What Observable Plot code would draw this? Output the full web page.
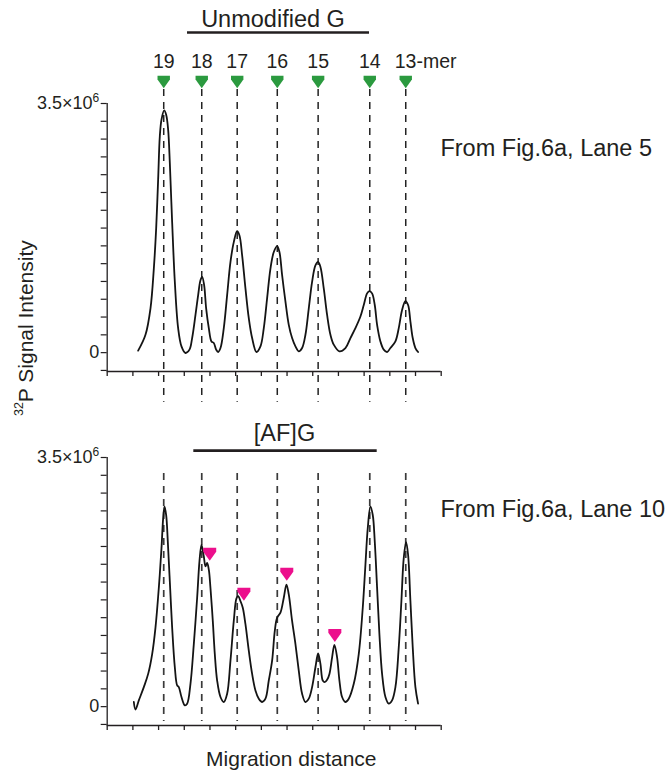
<!DOCTYPE html>
<html>
<head>
<meta charset="utf-8">
<script src="https://cdn.jsdelivr.net/npm/d3@7"></script>
<script src="https://cdn.jsdelivr.net/npm/@observablehq/plot@0.6"></script>
<style>
  html, body { margin: 0; padding: 0; background: #fff; }
  #chart { width: 671px; height: 773px; }
</style>
</head>
<body>
<div id="chart"></div>
<script>
// ---------------- data ----------------
const panels = ["top", "bottom"];
const panelTitles = ["Unmodified G", "[AF]G"];
const laneNotes = ["From Fig.6a, Lane 5", "From Fig.6a, Lane 10"];
const peakLabels = ["19", "18", "17", "16", "15", "14", "13-mer"];
const peakPos = [2.20, 3.68, 5.06, 6.62, 8.21, 10.22, 11.62];
const adductPos = [3.99, 5.32, 6.99, 8.86];
const adductLevel = [2.14, 1.58, 1.86, 1.00];
const xTicks = [0, 1, 2, 3, 4, 5, 6, 7, 8, 9, 10, 11, 12, 13];
const yTicks = [-0.25, 0, 0.25, 0.5, 0.75, 1, 1.25, 1.5, 1.75, 2, 2.25, 2.5, 2.75, 3, 3.25, 3.5];
const yTickLabels = ["0", "3.5×10^6"];
const yAxisTitle = "32P Signal Intensity";
const xAxisTitle = "Migration distance";

// signal in units of 10^6, migration distance in tick units
const topDist = [1.205,1.490,1.685,1.815,1.905,1.983,2.048,2.113,2.217,2.295,2.372,2.437,2.528,2.632,2.761,2.891,3.047,3.202,3.306,3.436,3.540,3.630,3.695,3.773,3.851,3.955,4.058,4.149,4.240,4.318,4.409,4.538,4.668,4.798,4.927,5.057,5.148,5.252,5.381,5.511,5.641,5.809,5.965,6.095,6.224,6.354,6.484,6.614,6.704,6.808,6.938,7.067,7.197,7.327,7.456,7.586,7.716,7.846,7.975,8.105,8.209,8.300,8.429,8.559,8.689,8.818,9.039,9.272,9.467,9.661,9.856,9.986,10.115,10.206,10.310,10.414,10.505,10.634,10.764,10.894,11.023,11.218,11.348,11.477,11.607,11.711,11.802,11.892,11.996,12.100];
const topSignal = [0.028,0.251,0.623,1.181,1.739,2.436,3.040,3.273,3.403,3.343,3.133,2.669,1.832,0.995,0.344,0.088,-0.005,0.042,0.205,0.530,0.809,1.018,1.065,0.948,0.623,0.344,0.158,0.135,0.042,0.009,0.065,0.344,0.809,1.274,1.553,1.706,1.646,1.367,0.902,0.484,0.205,0.009,0.088,0.344,0.762,1.181,1.413,1.497,1.413,1.088,0.716,0.391,0.205,0.088,0.019,0.065,0.251,0.623,0.995,1.227,1.274,1.204,0.902,0.530,0.251,0.112,0.019,0.065,0.205,0.344,0.507,0.669,0.832,0.865,0.832,0.669,0.391,0.158,0.042,0.009,0.065,0.158,0.344,0.600,0.725,0.669,0.437,0.205,0.065,0.009];

const bottomDist = [1.036,1.101,1.231,1.425,1.594,1.750,1.879,2.009,2.113,2.178,2.230,2.295,2.359,2.437,2.528,2.632,2.723,2.787,2.891,3.021,3.112,3.241,3.371,3.501,3.591,3.669,3.760,3.825,3.890,3.955,4.019,4.110,4.188,4.279,4.409,4.538,4.668,4.798,4.927,5.031,5.096,5.187,5.277,5.381,5.511,5.641,5.770,5.900,6.030,6.160,6.289,6.419,6.523,6.614,6.743,6.873,6.977,7.067,7.197,7.327,7.456,7.586,7.716,7.846,7.975,8.105,8.209,8.300,8.390,8.468,8.559,8.650,8.754,8.844,8.948,9.039,9.143,9.272,9.402,9.597,9.791,9.947,10.051,10.141,10.245,10.336,10.414,10.505,10.595,10.699,10.829,10.958,11.088,11.218,11.348,11.451,11.542,11.633,11.711,11.802,11.892,11.996,12.100];
const bottomSignal = [0.065,-0.042,0.088,0.274,0.460,0.739,1.111,1.669,2.227,2.645,2.808,2.692,2.320,1.762,1.111,0.553,0.298,0.274,0.135,0.019,0.042,0.321,0.879,1.530,2.041,2.273,2.111,1.971,2.018,1.925,1.669,1.204,0.739,0.367,0.135,0.065,0.181,0.646,1.204,1.520,1.553,1.483,1.390,1.158,0.786,0.460,0.228,0.112,0.065,0.112,0.367,0.646,1.065,1.251,1.320,1.530,1.715,1.576,1.204,0.879,0.507,0.181,0.065,0.112,0.274,0.553,0.749,0.600,0.367,0.344,0.377,0.460,0.693,0.869,0.693,0.367,0.135,0.065,0.112,0.321,0.739,1.390,1.994,2.506,2.808,2.692,2.320,1.669,1.018,0.460,0.135,0.042,0.088,0.274,0.832,1.483,2.087,2.311,2.134,1.483,0.832,0.274,0.042];

// ---------------- build ----------------
const traces = [
  ...topDist.map((d, i) => ({panel: "top", dist: d, signal: topSignal[i]})),
  ...bottomDist.map((d, i) => ({panel: "bottom", dist: d, signal: bottomSignal[i]}))
];

const INK = "#231f20";
const GREEN = "#2b9a3f";
const PINK = "#ec0f8c";
const FONT = "'Liberation Sans', Arial, Helvetica, sans-serif";

// downward "shield" marker (flat top, short sides, pointed bottom)
const shield = {
  draw(context, size) {
    const r = Math.sqrt(size / Math.PI);
    context.moveTo(-r, -r);
    context.lineTo(r, -r);
    context.lineTo(r, -0.4 * r);
    context.lineTo(0, r);
    context.lineTo(-r, -0.4 * r);
    context.closePath();
  }
};

const onTop = () => "top";
const onBottom = () => "bottom";

const chart = Plot.plot({
  width: 671,
  height: 773,
  marginTop: 102,
  marginBottom: 47,
  marginLeft: 106.7,
  marginRight: 230.3,
  style: {fontFamily: FONT, color: INK, background: "#fff", overflow: "visible"},
  x: {domain: [0, 13]},
  y: {domain: [-0.265, 3.5]},
  fy: {domain: panels, axis: null, paddingInner: 0.242, paddingOuter: 0},
  marks: [
    // axes
    Plot.ruleY([-0.265], {stroke: INK, strokeWidth: 1.3}),
    Plot.ruleX([0], {stroke: INK, strokeWidth: 1.3}),
    Plot.axisX({ticks: xTicks, tickSize: 5, tickFormat: () => "", label: null,
      facetAnchor: null, stroke: INK, strokeWidth: 1.3}),
    Plot.axisY({ticks: yTicks, tickSize: 6, tickPadding: 2, label: null,
      tickFormat: d => d === 0 ? yTickLabels[0] : (Math.abs(d - 3.5) < 1e-9 ? yTickLabels[1] : ""),
      fontSize: 18, fill: INK, stroke: INK, strokeWidth: 1.2}),

    // dashed guide lines
    Plot.ruleX(peakPos, {x: d => d, y1: 3.696, y2: -0.698, fy: onTop,
      stroke: "#222", strokeWidth: 1.5, strokeDasharray: "7,6"}),
    Plot.ruleX(peakPos, {x: d => d, y1: 3.275, y2: -0.209, fy: onBottom,
      stroke: "#3a3a3a", strokeWidth: 1.7, strokeDasharray: "7,6"}),

    // traces
    Plot.line(traces, {x: "dist", y: "signal", fy: "panel", curve: "catmull-rom",
      stroke: "#141414", strokeWidth: 1.8}),

    // panel titles with bars
    Plot.text([panelTitles[0]], {x: 6.453, y: 4.578, fy: onTop, text: d => d,
      lineAnchor: "bottom", fontSize: 23.5, fill: INK}),
    Plot.ruleY([4.498], {x1: 3.126, x2: 10.21, fy: onTop, stroke: INK, strokeWidth: 2.6}),
    Plot.text([panelTitles[1]], {x: 6.901, y: 3.737, fy: onBottom, text: d => d,
      lineAnchor: "bottom", fontSize: 23.5, fill: INK}),
    Plot.ruleY([3.597], {x1: 3.371, x2: 10.509, fy: onBottom, stroke: INK, strokeWidth: 2.6}),

    // lane notes
    Plot.text([laneNotes[0]], {x: 12.97, y: 2.768, fy: onTop, text: d => d,
      textAnchor: "start", lineAnchor: "bottom", fontSize: 23.5, fill: INK}),
    Plot.text([laneNotes[1]], {x: 12.97, y: 2.66, fy: onBottom, text: d => d,
      textAnchor: "start", lineAnchor: "bottom", fontSize: 23.5, fill: INK}),

    // peak labels and green markers
    Plot.text(peakPos.slice(0, 6), {x: d => d, y: 3.994, fy: onTop,
      text: (d, i) => peakLabels[i], lineAnchor: "bottom", fontSize: 19.5, fill: INK}),
    Plot.text(peakPos.slice(6), {x: d => d, y: 3.994, fy: onTop,
      text: (d, i) => peakLabels[6 + i], textAnchor: "start", dx: -11, lineAnchor: "bottom", fontSize: 19.5, fill: INK}),
    Plot.dot(peakPos, {x: d => d, y: 3.801, fy: onTop, symbol: shield, r: 6.2,
      fill: GREEN, stroke: "none"}),

    // adduct markers
    Plot.dot(adductPos, {x: d => d, y: (d, i) => adductLevel[i], fy: onBottom,
      symbol: shield, r: 6.5, fill: PINK, stroke: "none"}),

    // axis titles
    Plot.text([xAxisTitle], {x: 7.166, y: -0.835, fy: onBottom, text: d => d,
      lineAnchor: "bottom", fontSize: 21, fill: INK}),
    Plot.text([yAxisTitle], {x: -3.141, y: 0.344, fy: onTop, text: d => d,
      rotate: -90, fontSize: 21, fill: INK})
  ]
});

// superscripts
d3.select(chart).selectAll("text").each(function() {
  const t = this.textContent;
  if (t === yTickLabels[1]) {
    const s = d3.select(this);
    s.text("3.5×10");
    s.append("tspan").attr("font-size", 12).attr("dy", -7).text("6");
  } else if (t === yAxisTitle) {
    const s = d3.select(this);
    s.text("");
    s.append("tspan").attr("font-size", 12.5).attr("dy", -10).text("32");
    s.append("tspan").attr("dy", 10).text("P Signal Intensity");
  }
});

document.getElementById("chart").appendChild(chart);
</script>
</body>
</html>
